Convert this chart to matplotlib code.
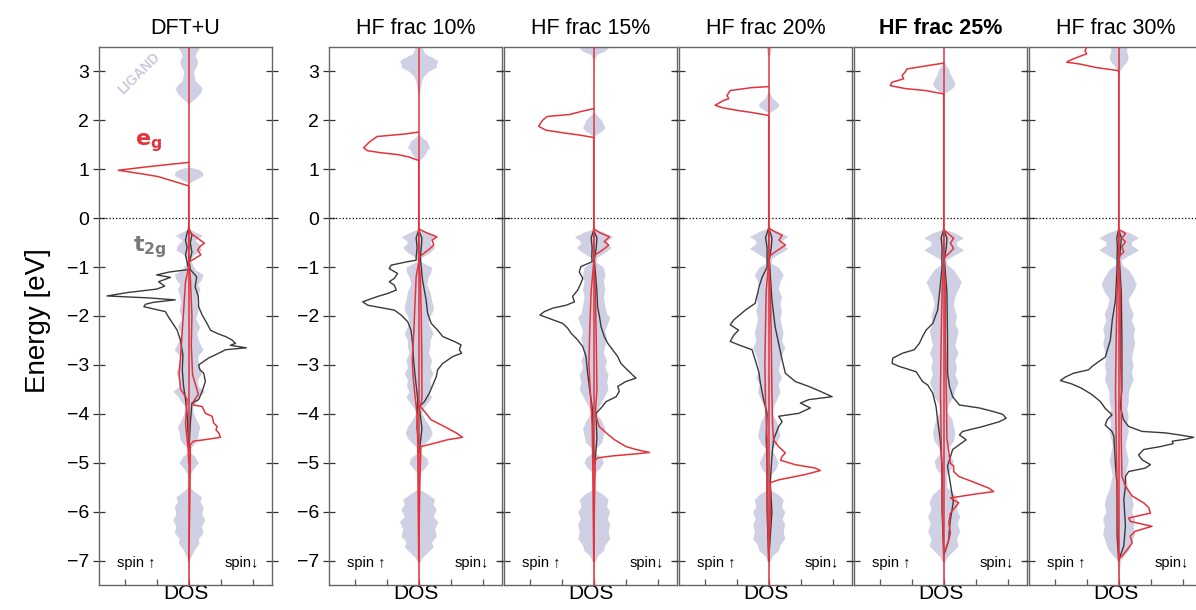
import numpy as np
import matplotlib
matplotlib.use("Agg")
import matplotlib.pyplot as plt

plt.rcParams['font.family'] = ['Liberation Sans', 'DejaVu Sans']

# panel titles
titles = ['DFT+U', 'HF frac 10%', 'HF frac 15%', 'HF frac 20%', 'HF frac 25%', 'HF frac 30%']

# ---- DOS curves, (energy eV, |DOS|) ; spin up drawn to the left ----
# DFT+U
dftu_t2g_up = [(-0.2, 0), (-0.3, 0.05), (-0.45, 0.1), (-0.6, 0.05), (-0.75, 0.1), (-0.9, 0.05), (-1.05, 0.0),
               (-1.1, 0.6), (-1.16, 1.0), (-1.21, 0.57), (-1.3, 0.94), (-1.39, 0.75), (-1.45, 1.0), (-1.52, 1.9),
               (-1.59, 2.55), (-1.63, 1.25), (-1.67, 0.42), (-1.72, 1.1), (-1.76, 1.35), (-1.81, 1.4), (-1.91, 0.73),
               (-2.0, 0.65), (-2.08, 0.57), (-2.2, 0.45), (-2.29, 0.36), (-2.49, 0.26), (-2.8, 0.18), (-3.1, 0.2),
               (-3.44, 0.16), (-3.7, 0.1), (-4.0, 0.05), (-4.4, 0.02), (-4.6, 0)]
dftu_t2g_dn = [(-0.2, 0), (-0.35, 0.1), (-0.5, 0.05), (-0.7, 0.1), (-0.9, 0.02), (-1.05, 0.05), (-1.2, 0.25),
               (-1.4, 0.2), (-1.6, 0.3), (-1.81, 0.31), (-1.98, 0.42), (-2.15, 0.57), (-2.29, 0.68), (-2.36, 0.9),
               (-2.42, 1.15), (-2.49, 1.35), (-2.56, 1.46), (-2.6, 1.3), (-2.65, 1.8), (-2.69, 1.15), (-2.76, 0.94),
               (-2.86, 0.62), (-3.0, 0.31), (-3.1, 0.35), (-3.17, 0.47), (-3.34, 0.52), (-3.54, 0.42), (-3.71, 0.31),
               (-3.78, 0.1), (-4.2, 0.05), (-4.6, 0.02), (-4.7, 0)]
dftu_eg_up = [(1.14, 0), (1.12, 0.3), (1.10, 0.6), (1.05, 1.3), (0.98, 2.2), (0.95, 1.9), (0.90, 1.4), (0.85, 0.95),
              (0.78, 0.6), (0.70, 0.2), (0.66, 0), (-1.0, 0), (-1.3, 0.1), (-1.8, 0.15), (-2.3, 0.2), (-2.8, 0.25),
              (-3.2, 0.3), (-3.5, 0.25), (-3.7, 0.05), (-4.2, 0.1), (-4.7, 0.02), (-5.0, 0)]
dftu_eg_dn = [(-0.2, 0), (-0.31, 0.07), (-0.42, 0.3), (-0.51, 0.49), (-0.58, 0.35), (-0.65, 0.28), (-0.75, 0.38),
              (-0.82, 0.2), (-0.9, 0), (-1.2, 0.05), (-2.0, 0.1), (-2.6, 0.08), (-3.2, 0.12), (-3.6, 0.3),
              (-3.75, 0.15), (-3.82, 0.15), (-3.85, 0.42), (-3.99, 0.52), (-4.05, 0.73), (-4.19, 0.78), (-4.26, 0.89),
              (-4.33, 0.85), (-4.39, 0.94), (-4.48, 0.99), (-4.52, 0.6), (-4.56, 0.15), (-4.63, 0.05), (-5.0, 0.05),
              (-6.0, 0.03), (-7.0, 0)]
dftu_lig = [(3.6, 0.3), (3.5, 0.34), (3.4, 0.25), (3.33, 0.2), (3.2, 0.28), (3.12, 0.25), (3.0, 0.15), (2.9, 0.18),
            (2.82, 0.2), (2.72, 0.35), (2.65, 0.42), (2.55, 0.35), (2.45, 0.2), (2.37, 0.05), (2.3, 0),
            (1.05, 0), (1.0, 0.3), (0.95, 0.42), (0.88, 0.45), (0.8, 0.25), (0.72, 0.02), (0.68, 0),
            (-0.22, 0), (-0.28, 0.2), (-0.35, 0.42), (-0.45, 0.2), (-0.55, 0.35), (-0.65, 0.4), (-0.75, 0.15),
            (-0.85, 0.05), (-0.95, 0.12), (-1.05, 0.2), (-1.15, 0.45), (-1.25, 0.4), (-1.35, 0.28), (-1.45, 0.35),
            (-1.55, 0.3), (-1.7, 0.25), (-1.88, 0.3), (-2.05, 0.22), (-2.22, 0.35), (-2.35, 0.25), (-2.49, 0.3),
            (-2.6, 0.38), (-2.69, 0.45), (-2.8, 0.3), (-2.9, 0.28), (-3.05, 0.35), (-3.17, 0.4), (-3.3, 0.28),
            (-3.44, 0.3), (-3.54, 0.5), (-3.63, 0.35), (-3.71, 0.28), (-3.85, 0.12), (-3.99, 0.15), (-4.1, 0.22),
            (-4.26, 0.35), (-4.39, 0.3), (-4.5, 0.28), (-4.6, 0.2), (-4.7, 0.05), (-4.78, 0.02), (-4.88, 0.2),
            (-5.0, 0.3), (-5.12, 0.15), (-5.25, 0.02), (-5.5, 0.02), (-5.6, 0.2), (-5.7, 0.4), (-5.8, 0.35),
            (-5.9, 0.45), (-6.05, 0.4), (-6.16, 0.5), (-6.3, 0.4), (-6.43, 0.45), (-6.55, 0.3), (-6.65, 0.32),
            (-6.75, 0.2), (-6.85, 0.12), (-6.99, 0.02), (-7.5, 0)]

# HF 10%
hf10_t2g_up = [(-0.25, 0), (-0.4, 0.08), (-0.6, 0.05), (-0.8, 0.08), (-0.86, 0.08), (-0.89, 0.35), (-0.96, 0.86),
               (-1.03, 0.92), (-1.13, 0.66), (-1.23, 0.76), (-1.3, 0.92), (-1.37, 0.76), (-1.47, 0.7), (-1.54, 0.97),
               (-1.6, 1.28), (-1.71, 1.75), (-1.78, 1.59), (-1.88, 0.76), (-1.98, 0.55), (-2.12, 0.34), (-2.29, 0.24),
               (-2.56, 0.19), (-2.9, 0.16), (-3.17, 0.12), (-3.71, 0.03), (-4.3, 0.05), (-4.6, 0)]
hf10_t2g_dn = [(-0.25, 0), (-0.4, 0.1), (-0.6, 0.08), (-0.8, 0.05), (-1.27, 0.12), (-1.67, 0.23), (-1.95, 0.28),
               (-2.15, 0.39), (-2.29, 0.59), (-2.42, 0.75), (-2.52, 1.11), (-2.59, 1.32), (-2.69, 1.27), (-2.76, 1.34),
               (-2.83, 1.06), (-2.97, 0.75), (-3.1, 0.59), (-3.24, 0.55), (-3.41, 0.44), (-3.58, 0.33), (-3.75, 0.18),
               (-3.85, 0.02), (-4.3, 0.1), (-4.6, 0.05), (-4.8, 0)]
hf10_eg_up = [(1.76, 0), (1.72, 0.45), (1.67, 1.3), (1.55, 1.55), (1.44, 1.72), (1.38, 1.6), (1.34, 1.2), (1.30, 0.65),
              (1.25, 0.3), (1.18, 0), (-0.9, 0), (-1.2, 0.08), (-1.8, 0.12), (-2.3, 0.15), (-2.9, 0.2), (-3.2, 0.18),
              (-3.6, 0.12), (-4.0, 0.05), (-4.6, 0.03), (-5.5, 0.02), (-7.0, 0)]
hf10_eg_dn = [(-0.22, 0), (-0.3, 0.25), (-0.38, 0.57), (-0.45, 0.42), (-0.55, 0.47), (-0.65, 0.3), (-0.75, 0.1),
              (-0.82, 0), (-1.2, 0.05), (-2.0, 0.08), (-3.0, 0.1), (-3.7, 0.1), (-3.85, 0.05), (-3.99, 0.23),
              (-4.12, 0.38), (-4.26, 0.8), (-4.39, 1.17), (-4.48, 1.37), (-4.53, 0.9), (-4.6, 0.5), (-4.67, 0.07),
              (-5.5, 0.03), (-7.0, 0)]
hf10_lig = [(3.6, 0.05), (3.5, 0.1), (3.42, 0.15), (3.36, 0.2), (3.28, 0.45), (3.22, 0.6), (3.15, 0.55), (3.09, 0.55),
            (3.0, 0.3), (2.9, 0.15), (2.82, 0.1), (2.65, 0.05), (2.5, 0),
            (1.72, 0), (1.65, 0.1), (1.58, 0.25), (1.5, 0.3), (1.45, 0.35), (1.38, 0.25), (1.3, 0.2), (1.22, 0.08),
            (1.15, 0),
            (-0.22, 0), (-0.28, 0.25), (-0.38, 0.55), (-0.45, 0.4), (-0.5, 0.35), (-0.6, 0.5), (-0.7, 0.35),
            (-0.8, 0.1), (-0.88, 0.05), (-0.95, 0.25), (-1.0, 0.4), (-1.1, 0.38), (-1.2, 0.3), (-1.35, 0.25),
            (-1.5, 0.35), (-1.67, 0.4), (-1.8, 0.45), (-1.88, 0.45), (-2.0, 0.35), (-2.15, 0.3), (-2.35, 0.45),
            (-2.5, 0.35), (-2.63, 0.35), (-2.75, 0.3), (-2.9, 0.4), (-3.05, 0.35), (-3.17, 0.45), (-3.3, 0.35),
            (-3.44, 0.38), (-3.55, 0.3), (-3.65, 0.4), (-3.75, 0.3), (-3.88, 0.15), (-3.99, 0.1), (-4.12, 0.2),
            (-4.26, 0.35), (-4.39, 0.42), (-4.5, 0.35), (-4.6, 0.2), (-4.7, 0.05), (-4.8, 0.05), (-4.9, 0.25),
            (-5.0, 0.3), (-5.1, 0.2), (-5.2, 0.05), (-5.55, 0.05), (-5.65, 0.3), (-5.75, 0.5), (-5.85, 0.45),
            (-5.95, 0.55), (-6.1, 0.45), (-6.2, 0.6), (-6.35, 0.5), (-6.5, 0.55), (-6.62, 0.4), (-6.72, 0.45),
            (-6.85, 0.25), (-6.95, 0.1), (-7.05, 0.02), (-7.5, 0)]

# HF 15%
hf15_t2g_up = [(-0.25, 0), (-0.4, 0.08), (-0.6, 0.05), (-0.8, 0.06), (-0.89, 0.05), (-0.99, 0.4), (-1.1, 0.45),
               (-1.23, 0.34), (-1.33, 0.4), (-1.47, 0.5), (-1.6, 0.66), (-1.71, 0.6), (-1.78, 0.86), (-1.84, 1.28),
               (-1.91, 1.54), (-1.98, 1.68), (-2.05, 1.39), (-2.15, 0.97), (-2.25, 0.81), (-2.35, 0.71), (-2.49, 0.5),
               (-2.63, 0.34), (-2.83, 0.24), (-3.17, 0.19), (-3.58, 0.11), (-3.85, 0.05), (-4.4, 0.02), (-4.9, 0)]
hf15_t2g_dn = [(-0.25, 0), (-0.4, 0.1), (-0.6, 0.08), (-0.85, 0.02), (-1.5, 0.1), (-1.81, 0.12), (-2.01, 0.18),
               (-2.22, 0.23), (-2.42, 0.33), (-2.56, 0.44), (-2.69, 0.59), (-2.83, 0.75), (-2.97, 0.85), (-3.07, 1.0),
               (-3.17, 1.16), (-3.27, 1.32), (-3.34, 1.0), (-3.44, 0.75), (-3.54, 0.8), (-3.65, 0.7), (-3.75, 0.39),
               (-3.88, 0.23), (-3.99, 0.07), (-4.5, 0.1), (-4.9, 0.05), (-5.0, 0)]
hf15_eg_up = [(2.24, 0), (2.18, 0.4), (2.12, 0.75), (2.08, 1.45), (2.0, 1.6), (1.88, 1.72), (1.80, 1.5), (1.74, 0.9),
              (1.70, 0.45), (1.65, 0), (-0.9, 0), (-1.5, 0.08), (-2.2, 0.12), (-3.0, 0.15), (-3.6, 0.1), (-4.2, 0.05),
              (-5.0, 0.03), (-7.0, 0)]
hf15_eg_dn = [(-0.22, 0), (-0.3, 0.2), (-0.38, 0.49), (-0.48, 0.33), (-0.55, 0.47), (-0.65, 0.28), (-0.76, 0.02),
              (-0.85, 0), (-1.5, 0.05), (-2.5, 0.08), (-3.5, 0.1), (-4.0, 0.05), (-4.26, 0.17), (-4.39, 0.39),
              (-4.53, 0.65), (-4.67, 1.01), (-4.73, 1.32), (-4.79, 1.74), (-4.82, 1.3), (-4.86, 0.6), (-4.9, 0.12),
              (-4.95, 0.05), (-5.5, 0.03), (-7.0, 0)]
hf15_lig = [(3.6, 0.45), (3.5, 0.47), (3.42, 0.35), (3.35, 0.1), (3.25, 0.02), (3.1, 0),
            (2.18, 0), (2.1, 0.1), (2.0, 0.25), (1.92, 0.3), (1.85, 0.35), (1.78, 0.25), (1.72, 0.1), (1.66, 0),
            (-0.22, 0), (-0.28, 0.3), (-0.38, 0.6), (-0.45, 0.45), (-0.52, 0.4), (-0.6, 0.55), (-0.7, 0.35),
            (-0.8, 0.1), (-0.9, 0.08), (-1.0, 0.3), (-1.15, 0.35), (-1.3, 0.3), (-1.45, 0.35), (-1.6, 0.3),
            (-1.8, 0.35), (-1.95, 0.4), (-2.02, 0.5), (-2.12, 0.45), (-2.3, 0.35), (-2.45, 0.4), (-2.6, 0.35),
            (-2.75, 0.3), (-2.9, 0.4), (-3.05, 0.35), (-3.2, 0.45), (-3.35, 0.4), (-3.5, 0.45), (-3.62, 0.35),
            (-3.75, 0.25), (-3.9, 0.12), (-4.0, 0.1), (-4.15, 0.25), (-4.3, 0.35), (-4.45, 0.3), (-4.58, 0.25),
            (-4.7, 0.08), (-4.8, 0.05), (-4.9, 0.25), (-5.0, 0.3), (-5.1, 0.2), (-5.2, 0.05), (-5.55, 0.05),
            (-5.65, 0.3), (-5.75, 0.45), (-5.9, 0.4), (-6.0, 0.5), (-6.15, 0.42), (-6.25, 0.5), (-6.4, 0.45),
            (-6.55, 0.5), (-6.68, 0.35), (-6.8, 0.3), (-6.9, 0.12), (-7.05, 0.02), (-7.5, 0)]

# HF 20%
hf20_t2g_up = [(-0.2, 0), (-0.4, 0.1), (-0.6, 0.05), (-0.8, 0.05), (-1.0, 0.05), (-1.2, 0.2), (-1.4, 0.3),
               (-1.55, 0.35), (-1.67, 0.4), (-1.74, 0.42), (-1.88, 0.73), (-2.08, 1.09), (-2.18, 1.2), (-2.29, 0.94),
               (-2.39, 1.09), (-2.52, 1.2), (-2.59, 0.94), (-2.69, 0.52), (-2.9, 0.42), (-3.14, 0.31), (-3.37, 0.26),
               (-3.71, 0.16), (-3.99, 0.05), (-4.5, 0.08), (-5.0, 0.05), (-6.0, 0.05), (-7.0, 0)]
hf20_t2g_dn = [(-0.2, 0), (-0.4, 0.1), (-0.6, 0.08), (-0.85, 0.02), (-1.67, 0.1), (-2.22, 0.2), (-2.56, 0.31),
               (-2.9, 0.42), (-3.17, 0.52), (-3.34, 0.83), (-3.44, 1.25), (-3.54, 1.61), (-3.65, 1.98), (-3.71, 1.25),
               (-3.78, 0.99), (-3.88, 1.3), (-3.99, 0.94), (-4.05, 0.31), (-4.16, 0.42), (-4.26, 0.31), (-4.53, 0.15),
               (-4.87, 0.1), (-5.41, 0.05), (-6.0, 0.1), (-7.0, 0)]
hf20_eg_up = [(2.69, 0), (2.67, 0.52), (2.61, 1.2), (2.51, 1.3), (2.44, 1.25), (2.41, 1.4), (2.31, 1.67), (2.26, 1.46),
              (2.2, 0.94), (2.16, 0.52), (2.1, 0), (-0.9, 0), (-1.5, 0.08), (-2.2, 0.1), (-3.0, 0.12), (-3.8, 0.1),
              (-4.5, 0.05), (-5.5, 0.05), (-7.0, 0)]
hf20_eg_dn = [(-0.2, 0), (-0.28, 0.2), (-0.35, 0.42), (-0.45, 0.32), (-0.55, 0.52), (-0.69, 0.2), (-0.79, 0),
              (-1.5, 0.05), (-2.5, 0.08), (-3.5, 0.1), (-4.2, 0.12), (-4.53, 0.15), (-4.67, 0.31), (-4.8, 0.52),
              (-4.87, 0.42), (-4.95, 0.37), (-5.04, 0.83), (-5.11, 1.46), (-5.16, 1.61), (-5.24, 1.15), (-5.35, 0.31),
              (-5.41, 0.05), (-6.0, 0.05), (-7.0, 0)]
hf20_lig = [(3.6, 0.06), (3.5, 0.08), (3.35, 0.05), (3.3, 0),
            (2.6, 0), (2.55, 0.05), (2.45, 0.12), (2.38, 0.25), (2.33, 0.32), (2.27, 0.28), (2.2, 0.12), (2.15, 0.02),
            (2.1, 0),
            (-0.2, 0), (-0.27, 0.3), (-0.37, 0.6), (-0.46, 0.4), (-0.52, 0.4), (-0.62, 0.6), (-0.72, 0.35),
            (-0.82, 0.1), (-0.92, 0.08), (-1.0, 0.3), (-1.15, 0.45), (-1.3, 0.35), (-1.45, 0.3), (-1.6, 0.4),
            (-1.75, 0.35), (-1.9, 0.4), (-2.05, 0.35), (-2.2, 0.4), (-2.35, 0.45), (-2.5, 0.4), (-2.65, 0.5),
            (-2.8, 0.4), (-2.95, 0.35), (-3.1, 0.3), (-3.25, 0.4), (-3.4, 0.3), (-3.55, 0.35), (-3.7, 0.25),
            (-3.85, 0.15), (-4.0, 0.1), (-4.15, 0.25), (-4.3, 0.3), (-4.45, 0.35), (-4.6, 0.25), (-4.72, 0.08),
            (-4.85, 0.2), (-5.0, 0.3), (-5.15, 0.2), (-5.25, 0.05), (-5.55, 0.05), (-5.65, 0.3), (-5.75, 0.45),
            (-5.9, 0.4), (-6.0, 0.5), (-6.15, 0.42), (-6.25, 0.5), (-6.4, 0.45), (-6.55, 0.5), (-6.68, 0.35),
            (-6.8, 0.3), (-6.9, 0.12), (-7.05, 0.02), (-7.5, 0)]

# HF 25%
hf25_t2g_up = [(-0.24, 0), (-0.4, 0.08), (-0.6, 0.05), (-0.8, 0.06), (-0.99, 0.05), (-1.4, 0.11), (-1.88, 0.19),
               (-2.15, 0.34), (-2.29, 0.55), (-2.42, 0.66), (-2.56, 0.76), (-2.69, 0.92), (-2.76, 1.28), (-2.86, 1.59),
               (-2.97, 1.61), (-3.03, 1.39), (-3.14, 0.86), (-3.24, 0.76), (-3.34, 0.66), (-3.41, 0.5), (-3.58, 0.34),
               (-3.85, 0.24), (-4.12, 0.19), (-4.53, 0.11), (-5.07, 0.05), (-6.0, 0.05), (-6.8, 0)]
hf25_t2g_dn = [(-0.24, 0), (-0.4, 0.1), (-0.6, 0.08), (-0.85, 0.02), (-1.5, 0.1), (-2.5, 0.12), (-3.17, 0.12),
               (-3.44, 0.18), (-3.65, 0.28), (-3.82, 0.49), (-3.88, 1.11), (-3.95, 1.53), (-4.01, 1.84), (-4.09, 1.95),
               (-4.16, 1.74), (-4.26, 1.22), (-4.36, 0.59), (-4.43, 0.49), (-4.53, 0.7), (-4.63, 0.49), (-4.73, 0.28),
               (-4.94, 0.18), (-5.07, 0.12), (-5.8, 0.3), (-6.2, 0.2), (-6.6, 0.15), (-6.9, 0)]
hf25_eg_up = [(3.17, 0), (3.12, 0.5), (3.05, 1.15), (2.99, 1.2), (2.92, 1.3), (2.85, 1.25), (2.78, 1.61), (2.71, 1.67),
              (2.65, 1.2), (2.61, 0.57), (2.54, 0), (-0.9, 0), (-1.5, 0.05), (-2.5, 0.08), (-3.5, 0.1), (-4.5, 0.08),
              (-5.5, 0.05), (-7.0, 0)]
hf25_eg_dn = [(-0.24, 0), (-0.32, 0.15), (-0.41, 0.31), (-0.51, 0.21), (-0.62, 0.31), (-0.72, 0.16), (-0.82, 0),
              (-1.5, 0.05), (-2.5, 0.05), (-3.5, 0.08), (-4.5, 0.1), (-5.01, 0.21), (-5.07, 0.31), (-5.18, 0.31),
              (-5.28, 0.47), (-5.41, 0.99), (-5.52, 1.41), (-5.59, 1.56), (-5.65, 0.89), (-5.72, 0.21), (-5.82, 0.47),
              (-6.03, 0.21), (-6.23, 0.16), (-6.44, 0.21), (-6.71, 0.1), (-6.84, 0)]
hf25_lig = [(3.2, 0), (3.12, 0.08), (3.05, 0.15), (2.95, 0.2), (2.85, 0.28), (2.75, 0.35), (2.68, 0.3), (2.6, 0.15),
            (2.55, 0),
            (-0.22, 0), (-0.3, 0.35), (-0.4, 0.62), (-0.48, 0.4), (-0.55, 0.4), (-0.65, 0.62), (-0.75, 0.35),
            (-0.85, 0.08), (-0.95, 0.1), (-1.05, 0.3), (-1.2, 0.45), (-1.3, 0.55), (-1.45, 0.45), (-1.6, 0.35),
            (-1.75, 0.3), (-1.88, 0.35), (-2.0, 0.4), (-2.15, 0.35), (-2.29, 0.45), (-2.45, 0.4), (-2.6, 0.35),
            (-2.75, 0.45), (-2.9, 0.35), (-3.05, 0.4), (-3.2, 0.35), (-3.35, 0.45), (-3.5, 0.35), (-3.65, 0.3),
            (-3.8, 0.15), (-3.95, 0.1), (-4.1, 0.25), (-4.25, 0.3), (-4.4, 0.35), (-4.55, 0.3), (-4.7, 0.15),
            (-4.8, 0.1), (-4.95, 0.3), (-5.1, 0.25), (-5.25, 0.08), (-5.5, 0.1), (-5.65, 0.35), (-5.8, 0.45),
            (-5.95, 0.4), (-6.1, 0.5), (-6.25, 0.42), (-6.4, 0.5), (-6.55, 0.4), (-6.7, 0.45), (-6.8, 0.3),
            (-6.92, 0.12), (-7.05, 0.02), (-7.5, 0)]

# HF 30%
hf30_t2g_up = [(-0.23, 0), (-0.4, 0.06), (-0.6, 0.04), (-0.8, 0.05), (-1.0, 0.05), (-1.67, 0.1), (-2.08, 0.2),
               (-2.49, 0.26), (-2.84, 0.42), (-2.93, 0.62), (-3.03, 0.83), (-3.1, 0.94), (-3.17, 1.41), (-3.25, 1.67),
               (-3.32, 1.82), (-3.39, 1.46), (-3.48, 1.15), (-3.61, 0.83), (-3.75, 0.57), (-3.89, 0.42), (-4.02, 0.21),
               (-4.12, 0.36), (-4.23, 0.42), (-4.36, 0.21), (-4.46, 0.15), (-5.07, 0.1), (-5.48, 0.05), (-6.5, 0.05),
               (-7.0, 0)]
hf30_t2g_dn = [(-0.23, 0), (-0.4, 0.08), (-0.6, 0.06), (-0.85, 0.02), (-1.5, 0.08), (-2.5, 0.1), (-3.5, 0.1),
               (-3.86, 0.05), (-4.12, 0.15), (-4.26, 0.31), (-4.36, 0.73), (-4.39, 1.46), (-4.43, 1.88), (-4.48, 2.34),
               (-4.52, 2.08), (-4.56, 1.67), (-4.61, 1.7), (-4.67, 1.3), (-4.73, 0.78), (-4.84, 0.62), (-4.94, 0.73),
               (-5.04, 0.99), (-5.11, 0.83), (-5.18, 0.31), (-5.28, 0.21), (-5.48, 0.21), (-5.75, 0.16), (-6.29, 0.21),
               (-6.7, 0.16), (-6.9, 0.05), (-7.0, 0)]
hf30_eg_up = [(3.6, 1.0), (3.5, 1.0), (3.42, 1.05), (3.36, 1.0), (3.3, 1.25), (3.22, 1.55), (3.19, 1.62), (3.15, 1.2),
              (3.08, 0.7), (3.02, 0.05), (3.0, 0), (-0.9, 0), (-1.5, 0.05), (-2.5, 0.08), (-3.5, 0.1), (-4.5, 0.08),
              (-5.5, 0.05), (-7.0, 0)]
hf30_eg_dn = [(-0.23, 0), (-0.31, 0.21), (-0.41, 0.1), (-0.48, 0.21), (-0.59, 0.1), (-0.69, 0.16), (-0.79, 0),
              (-1.5, 0.05), (-2.5, 0.05), (-3.5, 0.08), (-4.5, 0.08), (-5.28, 0.1), (-5.48, 0.21), (-5.68, 0.42),
              (-5.82, 0.78), (-5.92, 0.94), (-6.03, 0.99), (-6.13, 0.31), (-6.2, 0.36), (-6.3, 1.04), (-6.4, 0.52),
              (-6.5, 0.36), (-6.64, 0.42), (-6.78, 0.26), (-6.91, 0.1), (-6.97, 0)]
hf30_lig = [(3.6, 0.2), (3.5, 0.25), (3.4, 0.25), (3.3, 0.3), (3.2, 0.25), (3.1, 0.12), (3.0, 0.02), (2.95, 0),
            (-0.22, 0), (-0.3, 0.35), (-0.4, 0.62), (-0.48, 0.4), (-0.55, 0.4), (-0.65, 0.62), (-0.75, 0.35),
            (-0.85, 0.08), (-0.95, 0.1), (-1.05, 0.3), (-1.2, 0.45), (-1.35, 0.55), (-1.5, 0.45), (-1.65, 0.3),
            (-1.8, 0.35), (-1.95, 0.45), (-2.1, 0.4), (-2.25, 0.5), (-2.4, 0.45), (-2.55, 0.5), (-2.7, 0.45),
            (-2.85, 0.4), (-3.0, 0.45), (-3.15, 0.4), (-3.3, 0.45), (-3.45, 0.35), (-3.6, 0.3), (-3.75, 0.3),
            (-3.9, 0.25), (-4.05, 0.3), (-4.2, 0.25), (-4.35, 0.3), (-4.5, 0.25), (-4.65, 0.2), (-4.8, 0.25),
            (-4.95, 0.3), (-5.1, 0.25), (-5.25, 0.2), (-5.4, 0.25), (-5.55, 0.3), (-5.7, 0.4), (-5.85, 0.45),
            (-6.0, 0.4), (-6.15, 0.5), (-6.3, 0.45), (-6.45, 0.5), (-6.6, 0.42), (-6.75, 0.35), (-6.88, 0.2),
            (-7.0, 0.05), (-7.5, 0)]

t2g_up = [dftu_t2g_up, hf10_t2g_up, hf15_t2g_up, hf20_t2g_up, hf25_t2g_up, hf30_t2g_up]
t2g_dn = [dftu_t2g_dn, hf10_t2g_dn, hf15_t2g_dn, hf20_t2g_dn, hf25_t2g_dn, hf30_t2g_dn]
eg_up = [dftu_eg_up, hf10_eg_up, hf15_eg_up, hf20_eg_up, hf25_eg_up, hf30_eg_up]
eg_dn = [dftu_eg_dn, hf10_eg_dn, hf15_eg_dn, hf20_eg_dn, hf25_eg_dn, hf30_eg_dn]
ligand = [dftu_lig, hf10_lig, hf15_lig, hf20_lig, hf25_lig, hf30_lig]

red = '#e3343c'
dark = '#3a3a3a'
lav = '#d0d0e4'

fig = plt.figure(figsize=(11.96, 6.10), dpi=100)
lefts = [99, 329, 504, 679, 854, 1029]

for i in range(6):
    ax = fig.add_axes([lefts[i] / 1196, 25 / 610, 173 / 1196, 538 / 610])
    lig = np.array(ligand[i])
    ax.fill_betweenx(lig[:, 0], -lig[:, 1], lig[:, 1], color=lav, lw=0, zorder=1)
    ax.axhline(0, color='k', ls=':', lw=0.9, zorder=2)
    a = np.array(t2g_up[i]); ax.plot(-a[:, 1], a[:, 0], color=dark, lw=1.0, zorder=3)
    a = np.array(t2g_dn[i]); ax.plot(a[:, 1], a[:, 0], color=dark, lw=1.0, zorder=3)
    a = np.array(eg_up[i]); ax.plot(-a[:, 1], a[:, 0], color=red, lw=1.1, zorder=4)
    a = np.array(eg_dn[i]); ax.plot(a[:, 1], a[:, 0], color=red, lw=1.1, zorder=4)
    ax.axvline(0, color=red, lw=1.1, zorder=5)

    ax.set_xlim(-2.8, 2.6)
    ax.set_ylim(-7.5, 3.5)
    ax.set_xticks([-2, -1, 0, 1, 2])
    ax.set_xticklabels([])
    ax.tick_params(axis='x', direction='in', length=4, width=0.9, color='#555555', pad=0)
    ax.set_yticks(range(-7, 4))
    ax.tick_params(axis='y', direction='inout', length=8, width=0.9, left=True, right=True,
                   labelsize=14, color='#333333', pad=3)
    if i > 1:
        ax.set_yticklabels([])
    for s in ax.spines.values():
        s.set_color('#666666')
        s.set_linewidth(1.0)
    ax.set_xlabel('DOS', fontsize=15, labelpad=-1)
    ax.set_title(titles[i], fontsize=15.5, pad=9, fontweight='bold' if i == 4 else 'normal')
    ax.text(-1.65, -7.05, 'spin \u2191', fontsize=10.5, ha='center', va='center')
    ax.text(1.65, -7.05, 'spin\u2193', fontsize=10.5, ha='center', va='center')
    if i == 0:
        ax.text(-1.55, 2.95, 'LIGAND', rotation=45, fontsize=10, fontweight='bold', color='#cacadd',
                ha='center', va='center')
        ax.text(-1.25, 1.55, r'$\mathbf{e_g}$', fontsize=16, color=red, ha='center', va='center')
        ax.text(-1.2, -0.6, r'$\mathbf{t_{2g}}$', fontsize=16, color='#7a7a7a', ha='center', va='center')

fig.text(0.032, 0.475, 'Energy [eV]', rotation=90, fontsize=20, ha='center', va='center')

fig.savefig('out.png', dpi=100)
